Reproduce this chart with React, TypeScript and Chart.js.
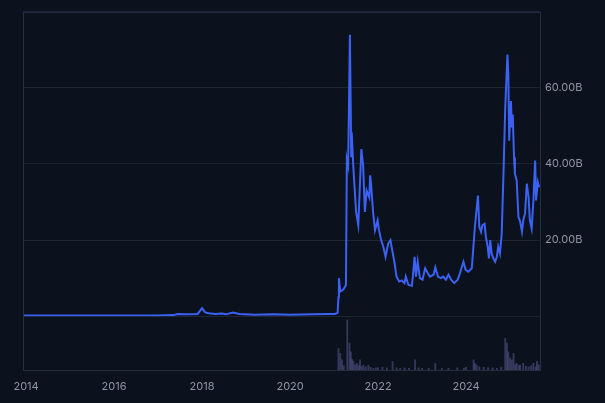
import React, { useEffect, useRef } from "react";
import { Chart, registerables } from "chart.js";

Chart.register(...registerables);

// Price series (decimal year, value in billions)
const priceDates = [
  2013.93, 2015.0, 2016.0, 2017.0, 2017.35, 2017.45, 2017.6, 2017.9, 2018.0, 2018.07,
  2018.15, 2018.3, 2018.45, 2018.55, 2018.7, 2018.85, 2019.2, 2019.6, 2020.0, 2020.5,
  2020.9, 2021.02, 2021.08, 2021.1, 2021.11, 2021.14, 2021.21, 2021.27, 2021.29, 2021.32,
  2021.36, 2021.39, 2021.4, 2021.44, 2021.5, 2021.55, 2021.62, 2021.66, 2021.7, 2021.74,
  2021.8, 2021.82, 2021.84, 2021.89, 2021.93, 2021.99, 2022.02, 2022.07, 2022.12, 2022.17,
  2022.23, 2022.28, 2022.32, 2022.37, 2022.42, 2022.48, 2022.54, 2022.6, 2022.63, 2022.69,
  2022.77, 2022.83, 2022.86, 2022.9, 2022.95, 2023.01, 2023.07, 2023.13, 2023.18, 2023.26,
  2023.3, 2023.36, 2023.43, 2023.48, 2023.54, 2023.6, 2023.66, 2023.73, 2023.81, 2023.86,
  2023.94, 2023.99, 2024.05, 2024.13, 2024.2, 2024.27, 2024.3, 2024.34, 2024.37, 2024.42,
  2024.45, 2024.49, 2024.52, 2024.55, 2024.58, 2024.62, 2024.66, 2024.7, 2024.73, 2024.77,
  2024.81, 2024.85, 2024.89, 2024.94, 2024.96, 2024.98, 2025.02, 2025.04, 2025.06, 2025.09,
  2025.11, 2025.15, 2025.19, 2025.23, 2025.27, 2025.3, 2025.34, 2025.38, 2025.42, 2025.45,
  2025.49, 2025.53, 2025.57, 2025.59, 2025.63, 2025.66,
];
const priceValues = [
  0.2, 0.2, 0.2, 0.2, 0.3, 0.6, 0.5, 0.6, 2.1, 1.0,
  0.8, 0.6, 0.7, 0.5, 1.0, 0.6, 0.4, 0.5, 0.4, 0.5,
  0.6, 0.6, 0.9, 5.0, 10.0, 6.5, 7.0, 8.2, 41.3, 39.6,
  73.9, 42.0, 48.3, 38.7, 27.4, 23.9, 43.9, 39.6, 27.4, 33.0,
  31.2, 37.0, 34.7, 26.9, 22.6, 25.2, 22.6, 20.0, 18.2, 15.6,
  19.1, 20.0, 17.4, 14.3, 10.4, 9.1, 9.4, 8.7, 10.4, 8.2,
  8.0, 15.6, 10.4, 14.3, 10.0, 9.6, 12.6, 11.3, 10.4, 10.9,
  12.8, 10.4, 10.0, 10.4, 9.6, 10.9, 9.6, 8.7, 9.6, 11.3,
  14.3, 12.2, 11.7, 12.6, 23.5, 31.7, 23.5, 22.2, 23.9, 24.3,
  20.9, 18.3, 15.2, 20.0, 16.5, 15.2, 14.3, 15.7, 18.3, 16.5,
  21.7, 37.4, 54.8, 68.7, 63.5, 46.1, 56.5, 49.6, 53.0, 41.7,
  37.4, 35.7, 26.1, 24.8, 22.2, 25.2, 27.0, 34.8, 31.3, 25.2,
  23.0, 30.4, 40.9, 30.4, 35.2, 33.9,
];

// Volume series (decimal year, relative volume)
const volumeDates = [
  2021.1, 2021.14, 2021.18, 2021.22, 2021.3, 2021.35, 2021.38, 2021.41, 2021.44, 2021.48,
  2021.52, 2021.56, 2021.59, 2021.63, 2021.67, 2021.72, 2021.78, 2021.83, 2021.89, 2021.95,
  2022.0, 2022.1, 2022.2, 2022.33, 2022.42, 2022.5, 2022.6, 2022.7, 2022.84, 2022.92,
  2023.0, 2023.15, 2023.3, 2023.45, 2023.6, 2023.8, 2023.95, 2024.0, 2024.17, 2024.2,
  2024.24, 2024.3, 2024.4, 2024.5, 2024.6, 2024.7, 2024.8, 2024.89, 2024.93, 2024.96,
  2025.0, 2025.04, 2025.08, 2025.12, 2025.15, 2025.2, 2025.23, 2025.3, 2025.36, 2025.42,
  2025.48, 2025.53, 2025.58, 2025.61, 2025.65,
];
const volumeValues = [
  40, 31, 19, 8, 93, 50, 34, 20, 16, 10,
  12.5, 8, 19, 7, 9, 6, 9, 5, 3, 4,
  4, 5, 4, 16, 4, 3, 4, 3, 19, 4,
  3, 3, 12.5, 3, 3, 4, 3, 5, 19, 12,
  9, 6, 5, 4, 4, 3, 5, 59, 50, 34,
  22, 19, 31, 10, 12.5, 8, 9, 12.5, 7, 6,
  8, 12.5, 6, 16, 10,
];

const xTicks = [2014, 2016, 2018, 2020, 2022, 2024];
const yTicks = [0, 20, 40, 60, 80];
const yLabelled = [20, 40, 60];

const BG = "#0b111d";
const GRID = "#1e2535";
const BORDER = "#262d3d";
const TEXT = "#8f95a5";

export default function App() {
  const ref = useRef<HTMLCanvasElement | null>(null);

  useEffect(() => {
    document.body.style.margin = "0";
    document.body.style.background = BG;
    const canvas = ref.current;
    if (!canvas) return;

    const framePlugin = {
      id: "frame",
      beforeDraw(chart: any) {
        const { ctx } = chart;
        ctx.save();
        ctx.fillStyle = BG;
        ctx.fillRect(0, 0, chart.width, chart.height);
        ctx.restore();
      },
      afterDraw(chart: any) {
        const { ctx, chartArea } = chart;
        ctx.save();
        ctx.strokeStyle = BORDER;
        ctx.lineWidth = 1;
        ctx.strokeRect(
          Math.round(chartArea.left) + 0.5,
          Math.round(chartArea.top) + 0.5,
          Math.round(chartArea.right - chartArea.left),
          Math.round(chartArea.bottom - chartArea.top)
        );
        ctx.restore();
      },
    };

    const chart = new Chart(canvas, {
      type: "line",
      data: {
        datasets: [
          {
            type: "line",
            data: priceDates.map((d, i) => ({ x: d, y: priceValues[i] })),
            borderColor: "#3c62f5",
            borderWidth: 2,
            pointRadius: 0,
            tension: 0,
            xAxisID: "x",
            yAxisID: "y",
          } as any,
          {
            type: "bar",
            data: volumeDates.map((d, i) => ({ x: d, y: volumeValues[i] })),
            backgroundColor: "rgba(88,90,140,0.55)",
            barThickness: 1.2,
            xAxisID: "x",
            yAxisID: "yv",
          } as any,
        ],
      },
      options: {
        animation: false,
        responsive: false,
        maintainAspectRatio: false,
        layout: { padding: { left: 23, top: 10, right: 0, bottom: 0 } },
        plugins: { legend: { display: false }, tooltip: { enabled: false } },
        scales: {
          x: {
            type: "linear",
            offset: false,
            min: 2013.93,
            max: 2025.68,
            afterBuildTicks: (s: any) => {
              s.ticks = xTicks.map((v) => ({ value: v }));
            },
            afterFit: (s: any) => {
              s.height = 33;
            },
            grid: { display: false, drawTicks: false, offset: false },
            border: { display: false },
            ticks: {
              color: TEXT,
              font: { family: "Inter, 'Noto Sans', sans-serif", size: 11 },
              padding: 10,
              maxRotation: 0,
              autoSkip: false,
              callback: (v: any) => String(v),
            },
          },
          y: {
            type: "linear",
            position: "right",
            stack: "pane",
            stackWeight: 306,
            min: 0,
            max: 80,
            afterBuildTicks: (s: any) => {
              s.ticks = yTicks.map((v) => ({ value: v }));
            },
            afterFit: (s: any) => {
              s.width = 65;
            },
            grid: { color: GRID, drawTicks: false },
            border: { display: false },
            ticks: {
              color: TEXT,
              font: { family: "Inter, 'Noto Sans', sans-serif", size: 11 },
              padding: 5,
              callback: (v: any) => (yLabelled.includes(v) ? `${v.toFixed(2)}B` : ""),
            },
          },
          yv: {
            type: "linear",
            position: "right",
            stack: "pane",
            stackWeight: 54,
            min: 0,
            max: 100,
            afterFit: (s: any) => {
              s.width = 65;
            },
            grid: { display: false, drawTicks: false },
            border: { display: false },
            ticks: { display: false },
          },
        },
      },
      plugins: [framePlugin],
    } as any);

    return () => chart.destroy();
  }, []);

  return (
    <div style={{ position: "fixed", left: 0, top: 0, width: 605, height: 403, background: BG }}>
      <canvas ref={ref} width={605} height={403} style={{ display: "block", width: 605, height: 403 }} />
    </div>
  );
}
